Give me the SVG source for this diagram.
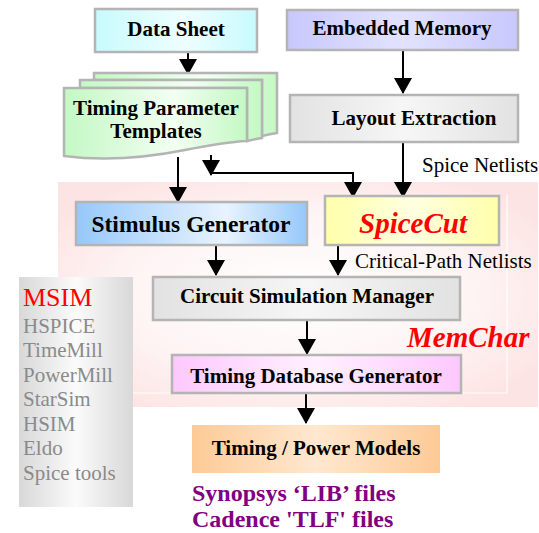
<svg xmlns="http://www.w3.org/2000/svg" width="539" height="533" viewBox="0 0 539 533">
<defs>
<style>
.box{stroke:#b4b4b4;stroke-width:2.5}
.t{font-family:"Liberation Serif","Times New Roman",serif;font-weight:bold;font-size:21px;fill:#000;text-anchor:middle}
.red{font-family:"Liberation Serif","Times New Roman",serif;font-weight:bold;font-style:italic;fill:#ff0000;font-size:29px}
.lbl{font-family:"Liberation Serif","Times New Roman",serif;font-size:21px;fill:#000}
.gray{font-family:"Liberation Serif","Times New Roman",serif;font-size:21px;fill:#8a8a8a}
.pur{font-family:"Liberation Serif","Times New Roman",serif;font-weight:bold;font-size:24px;fill:#800080}
.arr{fill:none;stroke:#000;stroke-width:2;marker-end:url(#ah)}
</style>
<marker id="ah" viewBox="0 0 16 18" refX="15" refY="9" markerWidth="16" markerHeight="18" markerUnits="userSpaceOnUse" orient="auto">
<path d="M0,0 L16,9 L0,18 z" fill="#000"/>
</marker>
<linearGradient id="gCyan"><stop offset="0" stop-color="#c8fafd"/><stop offset="0.55" stop-color="#effeff"/><stop offset="1" stop-color="#c8fafd"/></linearGradient>
<linearGradient id="gLav"><stop offset="0" stop-color="#c8c8fc"/><stop offset="0.5" stop-color="#e2e2ff"/><stop offset="1" stop-color="#c8c8fc"/></linearGradient>
<linearGradient id="gGray"><stop offset="0" stop-color="#e2e2e2"/><stop offset="0.5" stop-color="#f6f6f6"/><stop offset="1" stop-color="#e2e2e2"/></linearGradient>
<linearGradient id="gBlue"><stop offset="0" stop-color="#96c8fa"/><stop offset="0.65" stop-color="#e8f3ff"/><stop offset="1" stop-color="#96c8fa"/></linearGradient>
<linearGradient id="gYel"><stop offset="0" stop-color="#ffffaa"/><stop offset="0.5" stop-color="#ffffe0"/><stop offset="1" stop-color="#ffffaa"/></linearGradient>
<linearGradient id="gPink"><stop offset="0" stop-color="#fdc8fd"/><stop offset="0.5" stop-color="#fff0ff"/><stop offset="1" stop-color="#fdc8fd"/></linearGradient>
<linearGradient id="gOr"><stop offset="0" stop-color="#fdca96"/><stop offset="0.5" stop-color="#ffe8d0"/><stop offset="1" stop-color="#fdca96"/></linearGradient>
<linearGradient id="gGreen"><stop offset="0" stop-color="#c4f8c4"/><stop offset="0.6" stop-color="#f2fff2"/><stop offset="1" stop-color="#c4f8c4"/></linearGradient>
<linearGradient id="gMsim"><stop offset="0" stop-color="#d8d8d8"/><stop offset="0.5" stop-color="#fbfbfb"/><stop offset="1" stop-color="#d8d8d8"/></linearGradient>
<radialGradient id="gBg" cx="0.5" cy="0.5" r="0.6"><stop offset="0" stop-color="#ffffff"/><stop offset="0.6" stop-color="#fef4f4"/><stop offset="1" stop-color="#fde4e4"/></radialGradient>
</defs>

<g id="memchar-region">
<rect x="58" y="182" width="480" height="225" fill="url(#gBg)"/>
<polyline points="133,393 507,393 507,195" fill="none" stroke="#ffffff" stroke-width="1.2" opacity="0.9"/>
<text class="red" x="407" y="347">MemChar</text>
</g>

<g id="msim">
<rect x="19" y="277" width="114" height="230" fill="url(#gMsim)"/>
<text x="23" y="306" font-family="Liberation Serif,Times New Roman,serif" font-size="26" fill="#ff0000">MSIM</text>
<text class="gray" x="23" y="333">HSPICE</text>
<text class="gray" x="23" y="357">TimeMill</text>
<text class="gray" x="23" y="382">PowerMill</text>
<text class="gray" x="23" y="406">StarSim</text>
<text class="gray" x="23" y="431">HSIM</text>
<text class="gray" x="23" y="455">Eldo</text>
<text class="gray" x="23" y="480">Spice tools</text>
</g>

<g id="connectors">
<path class="arr" d="M188,52 V74"/>
<path class="arr" d="M403,50 V93"/>
<path class="arr" d="M403,142 V197"/>
<path class="arr" d="M178,157 V202"/>
<path class="arr" d="M211,155 V175"/>
<path class="arr" d="M211,173 H353 V197"/>
<path class="arr" d="M216,245 V275"/>
<path class="arr" d="M338,245 V275"/>
<path d="M307,311 V318" stroke="#000" stroke-width="1.2" stroke-dasharray="1.2,2" fill="none"/>
<path class="arr" d="M307,321 V354"/>
<path class="arr" d="M306,393 V423"/>
<text class="lbl" x="422" y="172">Spice Netlists</text>
<text class="lbl" x="355" y="268">Critical-Path Netlists</text>
</g>

<g id="data-sheet">
<rect class="box" x="95" y="9" width="162" height="43" fill="url(#gCyan)"/>
<text class="t" x="176" y="36">Data Sheet</text>
</g>

<g id="embedded-memory">
<rect class="box" x="287" y="10" width="231" height="40" fill="url(#gLav)"/>
<text class="t" x="402" y="35">Embedded Memory</text>
</g>

<g id="layout-extraction">
<rect class="box" x="290" y="95" width="228" height="47" fill="url(#gGray)"/>
<text class="t" x="414" y="125">Layout Extraction</text>
</g>

<g id="timing-parameter-templates">
<path class="box" d="M94,73 H277 V133 Q270,134 262,136 V80 H94 Z" fill="url(#gGreen)"/>
<path class="box" d="M80,80 H262 V138 Q255,139 247,141 V88 H80 Z" fill="url(#gGreen)"/>
<path class="box" d="M64,88 H247 V141 C225,142 205,146 185,150 C150,157 110,162 64,156 Z" fill="url(#gGreen)"/>
<text class="t" x="156" y="115">Timing Parameter</text>
<text class="t" x="156" y="138">Templates</text>
</g>

<g id="stimulus-generator">
<rect class="box" x="76" y="202" width="231" height="43" fill="url(#gBlue)"/>
<text class="t" x="191" y="232" style="font-size:23.5px">Stimulus Generator</text>
</g>

<g id="spicecut">
<rect class="box" x="325" y="196" width="174" height="49" fill="url(#gYel)"/>
<text class="red" x="413" y="233" text-anchor="middle">SpiceCut</text>
</g>

<g id="circuit-simulation-manager">
<rect class="box" x="153" y="277" width="307" height="43" fill="url(#gGray)"/>
<text class="t" x="307" y="303">Circuit Simulation Manager</text>
</g>

<g id="timing-database-generator">
<rect class="box" x="172" y="355" width="289" height="38" fill="url(#gPink)"/>
<text class="t" x="316" y="383">Timing Database Generator</text>
</g>

<g id="timing-power-models">
<rect x="192" y="425" width="248" height="48" fill="url(#gOr)"/>
<text class="t" x="316" y="455">Timing / Power Models</text>
</g>

<g id="output-formats">
<text class="pur" x="192" y="501">Synopsys ‘LIB’ files</text>
<text class="pur" x="192" y="527">Cadence 'TLF' files</text>
</g>
</svg>
